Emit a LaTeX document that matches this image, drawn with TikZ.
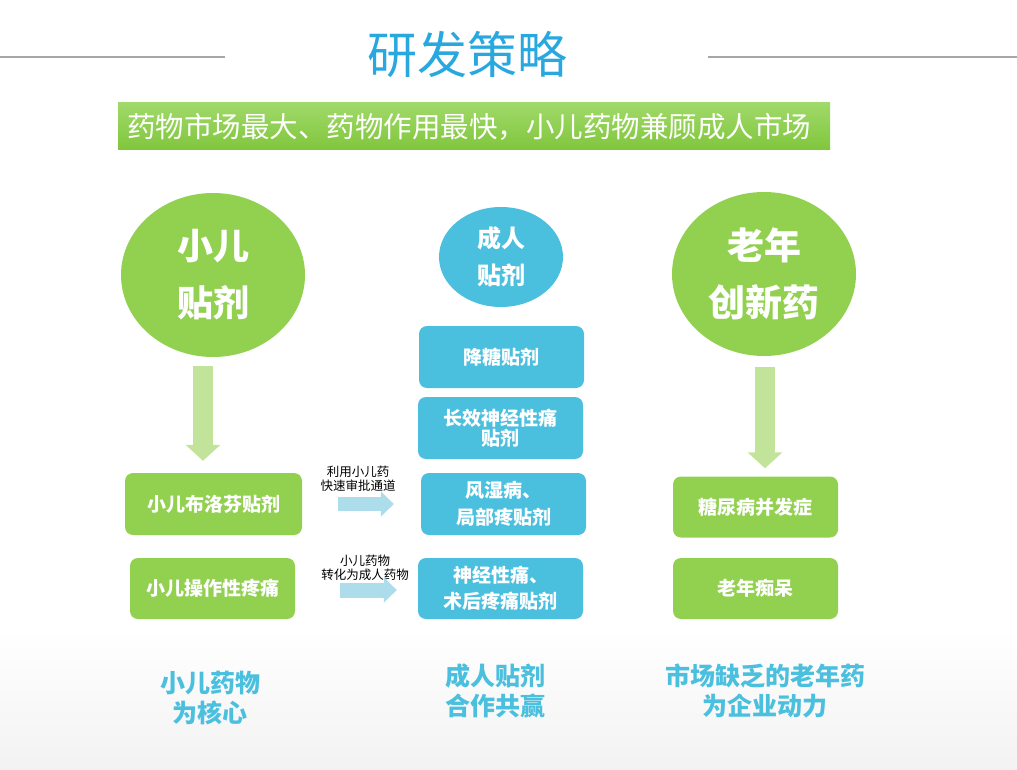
\documentclass[tikz,border=0pt]{standalone}
\usepackage{fontspec}
\setmainfont{Noto Sans CJK SC}
\usetikzlibrary{shapes.geometric,arrows.meta}
\definecolor{leaf}{RGB}{146,208,80}
\definecolor{paleleaf}{RGB}{194,228,154}
\definecolor{sky}{RGB}{75,191,222}
\definecolor{palesky}{RGB}{173,220,234}
\definecolor{titleblue}{RGB}{41,168,224}
\begin{document}
\begin{tikzpicture}[x=1pt,y=-1pt,
  blob/.style={ellipse,inner sep=0pt,text=white,align=center},
  pad/.style={rounded corners=8pt,minimum width=165pt,minimum height=62pt,inner sep=0pt,
    text=white,align=center,font=\bfseries\fontsize{19}{21}\selectfont},
  fat/.style={line width=20pt,draw=paleleaf,-{Triangle[width=34pt,length=16pt]}},
  slim/.style={draw=palesky,-{Triangle[width=25pt,length=13pt]}},
  note/.style={align=center,inner sep=0pt,font=\fontsize{12.5}{13.5}\selectfont},
  motto/.style={align=center,inner sep=0pt,text=sky,font=\bfseries\fontsize{25}{30}\selectfont}]
  \useasboundingbox (0,0) rectangle (1017,770);
  \fill [top color=white, bottom color=black!5] (0,630) rectangle (1017,770);

  \draw [line width=2pt, black!35] (0,57) -- (225,57);
  \draw [line width=2pt, black!35] (708,57) -- (1017,57);
  \node [text=titleblue, font=\fontsize{50}{50}\selectfont] (title) at (467,55) {研发策略};

  \shade [top color={rgb,255:red,160;green,217;blue,106}, bottom color={rgb,255:red,128;green,198;blue,60}]
    (118,103) rectangle (830,150);
  \node [text=white, font=\fontsize{28.5}{30}\selectfont] (banner) at (469,127)
    {药物市场最大、药物作用最快，小儿药物兼顾成人市场};

  \node [blob, fill=leaf, minimum width=184pt, minimum height=164pt,
    font=\bfseries\fontsize{36}{57}\selectfont] (kidc) at (213,275) {小儿\\贴剂};
  \node [blob, fill=sky, minimum width=124pt, minimum height=100pt,
    font=\bfseries\fontsize{24}{37}\selectfont] (adultc) at (501,257) {成人\\贴剂};
  \node [blob, fill=leaf, minimum width=184pt, minimum height=164pt,
    font=\bfseries\fontsize{37}{57}\selectfont] (oldc) at (764,274) {老年\\创新药};

  \node [pad, fill=leaf, minimum width=177pt] (kid1) at (213.5,504) {小儿布洛芬贴剂};
  \node [pad, fill=leaf, minimum height=61pt] (kid2) at (212.5,588.5) {小儿操作性疼痛};

  \node [pad, fill=sky] (glu)   at (501.5,357)   {降糖贴剂};
  \node [pad, fill=sky, font=\bfseries\fontsize{19}{20}\selectfont] (nerve) at (500.5,428) {长效神经性痛\\贴剂};
  \node [pad, fill=sky, font=\bfseries\fontsize{19}{27}\selectfont] (rheum) at (503.5,504) {风湿病、\\局部疼贴剂};
  \node [pad, fill=sky, minimum height=61pt, font=\bfseries\fontsize{19}{26}\selectfont] (pain) at (500.5,588.5) {神经性痛、\\术后疼痛贴剂};

  \node [pad, fill=leaf, minimum height=61pt] (dia) at (755.5,507)   {糖尿病并发症};
  \node [pad, fill=leaf, minimum height=61pt] (dem) at (755.5,588.5) {老年痴呆};

  \draw [fat, shorten <=9pt, shorten >=12pt] ([xshift=-10pt]kidc.south) -- ([xshift=-10pt]kidc.south |- kid1.north);
  \draw [fat, shorten <=11pt, shorten >=8pt] ([xshift=1pt]oldc.south) -- ([xshift=1pt]oldc.south |- dia.north);

  \node [note] (hint1) at (358,479) {利用小儿药\\快速审批通道};
  \node [note] (hint2) at (365,568) {小儿药物\\转化为成人药物};
  \coordinate (u1) at (338,504);
  \coordinate (u2) at (340,590);
  \draw [slim, line width=14pt, shorten >=27pt] (u1) -- (rheum.west |- u1);
  \draw [slim, line width=15pt, shorten >=21pt] (u2) -- (pain.west |- u2);

  \node [motto] (m1) at (210,698) {小儿药物\\为核心};
  \node [motto] (m2) at (495,691) {成人贴剂\\合作共赢};
  \node [motto] (m3) at (765,691) {市场缺乏的老年药\\为企业动力};
\end{tikzpicture}
\end{document}
